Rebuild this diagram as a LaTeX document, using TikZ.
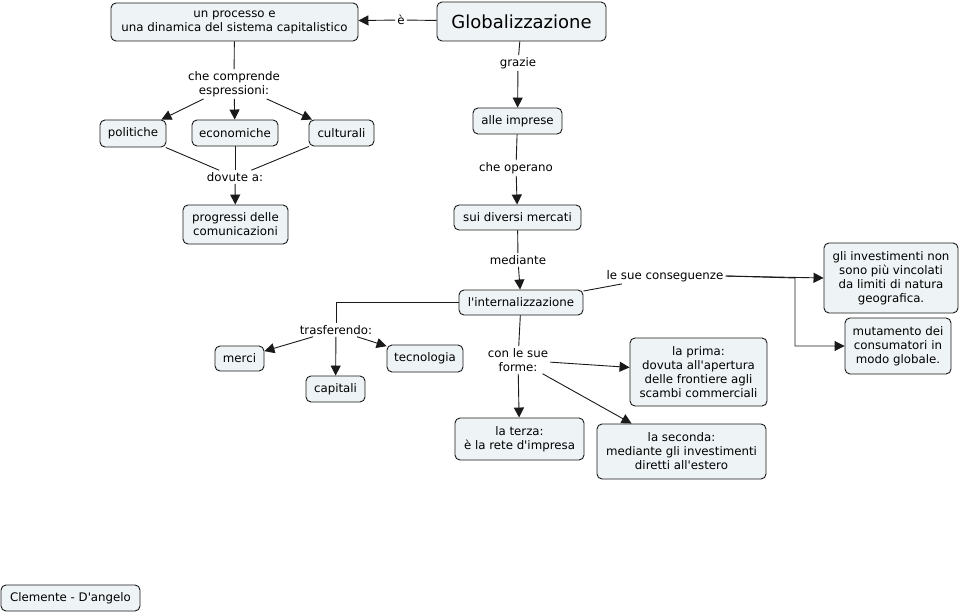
\documentclass[tikz,border=0pt]{standalone}
\usepackage{fontspec}
\setmainfont{DejaVu Sans}[Ligatures=TeXOff]
\usetikzlibrary{arrows.meta}
\definecolor{boxfill}{HTML}{EEF3F5}
\definecolor{boxline}{HTML}{1A1A1A}
\begin{document}
\begin{tikzpicture}[x=1pt,y=-1pt,
  cbox/.style={draw=boxline, fill=boxfill, rounded corners=5pt, align=center, inner sep=1pt, font=\fontsize{11.8}{14}\selectfont, line width=0.9pt},
  lbl/.style={align=center, inner sep=2pt, font=\fontsize{11.8}{14}\selectfont},
  arr/.style={-{Triangle[length=10pt,width=10pt]}, line width=0.9pt, draw=boxline},
  ln/.style={line width=0.9pt, draw=boxline}]
\useasboundingbox[fill=white] (0,0) rectangle (962,615);

% concept boxes
\node[cbox, minimum width=247pt, minimum height=38pt] (proc) at (234.5,22) {un processo e\\una dinamica del sistema capitalistico};
\node[cbox, minimum width=169pt, minimum height=39pt, font=\fontsize{18}{20}\selectfont] (glob) at (521.5,21.5) {Globalizzazione};
\node[cbox, minimum width=89pt, minimum height=26pt] (impr) at (517.5,121) {alle imprese};
\node[cbox, minimum width=127pt, minimum height=25pt] (merc) at (517.5,217.5) {sui diversi mercati};
\node[cbox, minimum width=124pt, minimum height=25pt] (intn) at (521,302.5) {l'internalizzazione};
\node[cbox, minimum width=134pt, minimum height=70pt] (inv) at (891,278) {gli investimenti non\\sono più vincolati\\da limiti di natura\\geografica.};
\node[cbox, minimum width=106pt, minimum height=56pt] (mut) at (898,346) {mutamento dei\\consumatori in\\modo globale.};
\node[cbox, minimum width=66pt, minimum height=27pt] (pol) at (133,133.5) {politiche};
\node[cbox, minimum width=86pt, minimum height=26pt] (eco) at (235,133) {economiche};
\node[cbox, minimum width=65pt, minimum height=26pt] (cul) at (341.5,133) {culturali};
\node[cbox, minimum width=105pt, minimum height=39pt] (prog) at (235.5,224.5) {progressi delle\\comunicazioni};
\node[cbox, minimum width=49pt, minimum height=25pt] (merci) at (239.5,358.5) {merci};
\node[cbox, minimum width=59pt, minimum height=26pt] (capi) at (335.5,389) {capitali};
\node[cbox, minimum width=76pt, minimum height=27pt] (tecn) at (425,358.5) {tecnologia};
\node[cbox, minimum width=137pt, minimum height=68pt] (prima) at (698.5,372) {la prima:\\dovuta all'apertura\\delle frontiere agli\\scambi commerciali};
\node[cbox, minimum width=129pt, minimum height=42pt] (terza) at (519.5,439) {la terza:\\è la rete d'impresa};
\node[cbox, minimum width=169pt, minimum height=55pt] (sec) at (681.5,451.5) {la seconda:\\mediante gli investimenti\\diretti all'estero};
\node[cbox, minimum width=139pt, minimum height=26pt] (auth) at (70.5,598) {Clemente - D'angelo};

% linking phrases
\node[lbl] (e) at (401,20) {è};
\node[lbl] (graz) at (518,63) {grazie};
\node[lbl] (oper) at (516,168) {che operano};
\node[lbl] (medi) at (518,260) {mediante};
\node[lbl] (cons) at (665,276) {le sue conseguenze};
\node[lbl] (compr) at (234,84) {che comprende\\espressioni:};
\node[lbl] (dov) at (235,177) {dovute a:};
\node[lbl] (trasf) at (336,330) {trasferendo:};
\node[lbl] (forme) at (518,360) {con le sue\\forme:};
\coordinate (branch) at (795,278);

% connectors
\draw[ln] (glob) -- (e);
\draw[arr] (e) -- (proc);
\draw[ln] (glob) -- (graz);
\draw[arr] (graz) -- (impr);
\draw[ln] (impr) -- (oper);
\draw[arr] (oper) -- (merc);
\draw[ln] (merc) -- (medi);
\draw[arr] (medi) -- (intn);
\draw[ln] (intn) -- (cons);
\draw[arr] (cons.east) -- (inv.west);
\draw[arr] (cons.east) -- (branch) |- (mut.west);
\draw[ln] (proc) -- (compr);
\draw[arr] (compr) -- (pol);
\draw[arr] (compr) -- (eco);
\draw[arr] (compr) -- (cul);
\draw[ln] (pol) -- (dov);
\draw[ln] (eco) -- (dov);
\draw[ln] (cul) -- (dov);
\draw[arr] (dov) -- (prog);
\draw[ln] (intn.west) -| (trasf.north);
\draw[arr] (trasf) -- (merci);
\draw[arr] (trasf) -- (capi);
\draw[arr] (trasf) -- (tecn);
\draw[ln] (intn) -- (forme);
\draw[arr] (forme) -- (prima);
\draw[arr] (forme) -- (terza);
\draw[arr] (forme) -- (sec);
\end{tikzpicture}
\end{document}
